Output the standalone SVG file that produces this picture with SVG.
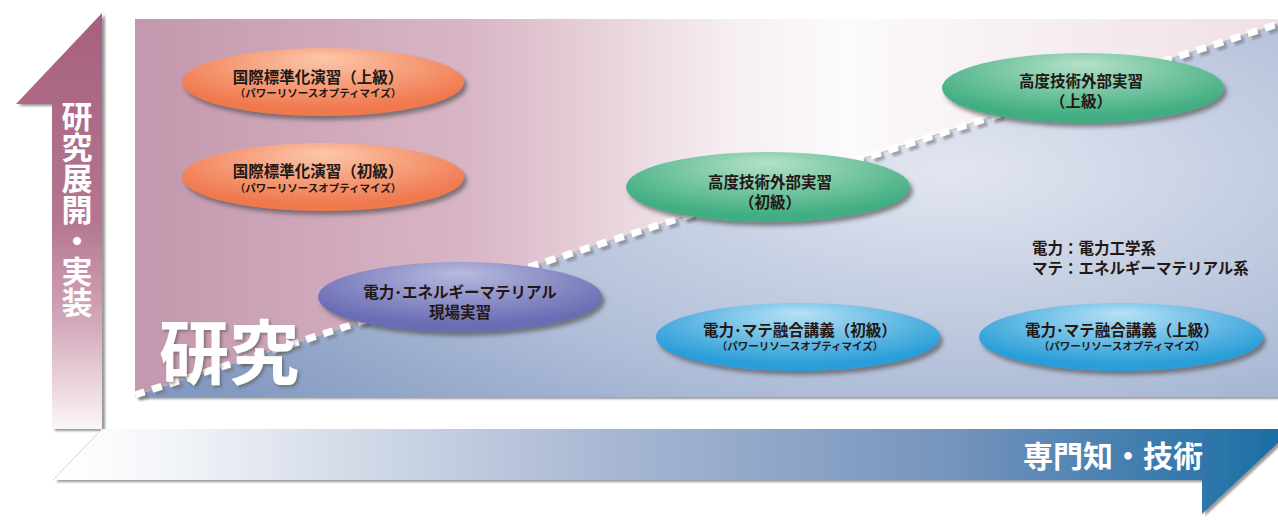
<svg xmlns="http://www.w3.org/2000/svg" width="1278" height="529" viewBox="0 0 1278 529">
<defs>
  <linearGradient id="gPink" x1="135" y1="0" x2="1278" y2="0" gradientUnits="userSpaceOnUse">
    <stop offset="0" stop-color="#c397ad"/>
    <stop offset="0.3" stop-color="#d9b7c6"/>
    <stop offset="0.52" stop-color="#f6eef1"/>
    <stop offset="0.62" stop-color="#fcfafb"/>
    <stop offset="1" stop-color="#efe0e6"/>
  </linearGradient>
  <radialGradient id="gBlue" cx="950" cy="170" r="900" gradientUnits="userSpaceOnUse" gradientTransform="translate(950 170) scale(1 0.42) translate(-950 -170)">
    <stop offset="0" stop-color="#e2e6f0"/>
    <stop offset="0.6" stop-color="#afbdd8"/>
    <stop offset="1" stop-color="#8299c0"/>
  </radialGradient>
  <linearGradient id="gUp" x1="0" y1="13" x2="0" y2="429" gradientUnits="userSpaceOnUse">
    <stop offset="0" stop-color="#a6607e"/>
    <stop offset="0.5" stop-color="#b47691"/>
    <stop offset="0.75" stop-color="#d4a9bb"/>
    <stop offset="1" stop-color="#fbf6f8"/>
  </linearGradient>
  <linearGradient id="gRight" x1="60" y1="0" x2="1278" y2="0" gradientUnits="userSpaceOnUse">
    <stop offset="0" stop-color="#ffffff"/>
    <stop offset="0.08" stop-color="#f4f6f9"/>
    <stop offset="0.44" stop-color="#aab9d4"/>
    <stop offset="0.73" stop-color="#7694bd"/>
    <stop offset="1" stop-color="#1b6ea5"/>
  </linearGradient>
  <radialGradient id="gOrange" cx="0.5" cy="0.3" r="0.6" fx="0.5" fy="0.15">
    <stop offset="0" stop-color="#fcc7aa"/>
    <stop offset="1" stop-color="#f0784e"/>
  </radialGradient>
  <radialGradient id="gGreen" cx="0.5" cy="0.3" r="0.6" fx="0.5" fy="0.15">
    <stop offset="0" stop-color="#b5e1ca"/>
    <stop offset="1" stop-color="#41ae82"/>
  </radialGradient>
  <radialGradient id="gPurple" cx="0.5" cy="0.3" r="0.6" fx="0.5" fy="0.15">
    <stop offset="0" stop-color="#b8badf"/>
    <stop offset="1" stop-color="#6a6cb4"/>
  </radialGradient>
  <radialGradient id="gCyan" cx="0.5" cy="0.3" r="0.6" fx="0.5" fy="0.15">
    <stop offset="0" stop-color="#b7e1f5"/>
    <stop offset="1" stop-color="#2a9ed8"/>
  </radialGradient>
  <filter id="shadow" x="-10%" y="-20%" width="125%" height="150%">
    <feDropShadow dx="3" dy="4" stdDeviation="2" flood-color="#444" flood-opacity="0.6"/>
  </filter>
  <filter id="shadowSm" x="-10%" y="-10%" width="125%" height="130%">
    <feDropShadow dx="3" dy="2" stdDeviation="1.2" flood-color="#555" flood-opacity="0.6"/>
  </filter>
  <filter id="txtShadow" x="-10%" y="-10%" width="130%" height="130%">
    <feDropShadow dx="2" dy="2" stdDeviation="1.5" flood-color="#555" flood-opacity="0.6"/>
  </filter>
  <filter id="blur1"><feGaussianBlur stdDeviation="1"/></filter>
</defs>
<style>
  text { font-family: "Noto Sans CJK JP", "Noto Sans", sans-serif; font-weight: bold; }
  .t1 { font-size: 15.5px; fill: #231815; text-anchor: middle; }
  .t2 { font-size: 10.5px; fill: #231815; text-anchor: middle; }
  .leg { font-size: 15.5px; fill: #231815; }
  .wh { fill: #ffffff; }
</style>

<!-- background panel -->
<g id="panel">
  <rect x="135" y="19" width="1143" height="378" fill="url(#gPink)" filter="url(#shadowSm)"/>
  <polygon points="135,397 135,395 1278,24 1278,397" fill="url(#gBlue)"/>
</g>

<!-- vertical axis arrow -->
<g id="axis-vertical">
  <polygon points="102,13 102,429 52,429 52,104 16,104" fill="url(#gUp)" filter="url(#shadowSm)"/>
  <text class="wh" x="77" y="101" font-size="31" style="writing-mode: vertical-rl;">研究展開・実装</text>
</g>

<!-- horizontal axis arrow -->
<g id="axis-horizontal">
  <polygon points="102,429 1290,429 1278,443 1202,514 1202,480 53,480" fill="url(#gRight)" filter="url(#shadowSm)"/>
  <line x1="102" y1="429" x2="53" y2="480" stroke="#c8c8c8" stroke-width="0.8"/>
  <text class="wh" x="1203" y="467" font-size="30" text-anchor="end">専門知・技術</text>
</g>

<!-- divider (dotted diagonal) -->
<g id="connectors">
  <line x1="137" y1="396" x2="1280" y2="25" stroke="#6f6f6f" stroke-width="7" stroke-dasharray="10 8" opacity="0.55" filter="url(#blur1)" transform="translate(1.5 2)"/>
  <line x1="135" y1="395" x2="1278" y2="24" stroke="#b9bcc6" stroke-width="1"/>
  <line x1="135" y1="395" x2="1278" y2="24" stroke="#ffffff" stroke-width="7" stroke-dasharray="10 8"/>
</g>

<g id="label-research">
  <text class="wh" x="159" y="379" font-size="70" filter="url(#txtShadow)">研究</text>
</g>

<g id="node-intl-adv">
  <ellipse cx="323" cy="82" rx="141" ry="34" fill="url(#gOrange)" filter="url(#shadow)"/>
  <text class="t1" x="318" y="83">国際標準化演習（上級）</text>
  <text class="t2" x="318" y="97">（パワーリソースオプティマイズ）</text>
</g>

<g id="node-intl-basic">
  <ellipse cx="323" cy="177" rx="141" ry="34" fill="url(#gOrange)" filter="url(#shadow)"/>
  <text class="t1" x="318" y="177">国際標準化演習（初級）</text>
  <text class="t2" x="318" y="192">（パワーリソースオプティマイズ）</text>
</g>

<g id="node-ext-adv">
  <ellipse cx="1083" cy="88" rx="141" ry="35" fill="url(#gGreen)" filter="url(#shadow)"/>
  <text class="t1" x="1081" y="87">高度技術外部実習</text>
  <text class="t1" x="1081" y="107">（上級）</text>
</g>

<g id="node-ext-basic">
  <ellipse cx="768" cy="187" rx="142" ry="35" fill="url(#gGreen)" filter="url(#shadow)"/>
  <text class="t1" x="770" y="188">高度技術外部実習</text>
  <text class="t1" x="770" y="208">（初級）</text>
</g>

<g id="node-field">
  <ellipse cx="460" cy="297" rx="142" ry="35" fill="url(#gPurple)" filter="url(#shadow)"/>
  <text class="t1" x="460" y="298">電力･エネルギーマテリアル</text>
  <text class="t1" x="460" y="318">現場実習</text>
</g>

<g id="node-lecture-basic">
  <ellipse cx="798" cy="337" rx="142" ry="34" fill="url(#gCyan)" filter="url(#shadow)"/>
  <text class="t1" x="800" y="336">電力･マテ融合講義（初級）</text>
  <text class="t2" x="800" y="350">（パワーリソースオプティマイズ）</text>
</g>

<g id="node-lecture-adv">
  <ellipse cx="1121" cy="337" rx="142" ry="34" fill="url(#gCyan)" filter="url(#shadow)"/>
  <text class="t1" x="1122" y="336">電力･マテ融合講義（上級）</text>
  <text class="t2" x="1122" y="350">（パワーリソースオプティマイズ）</text>
</g>

<g id="legend">
  <text class="leg" x="1032" y="254">電力：電力工学系</text>
  <text class="leg" x="1032" y="274">マテ：エネルギーマテリアル系</text>
</g>
</svg>
